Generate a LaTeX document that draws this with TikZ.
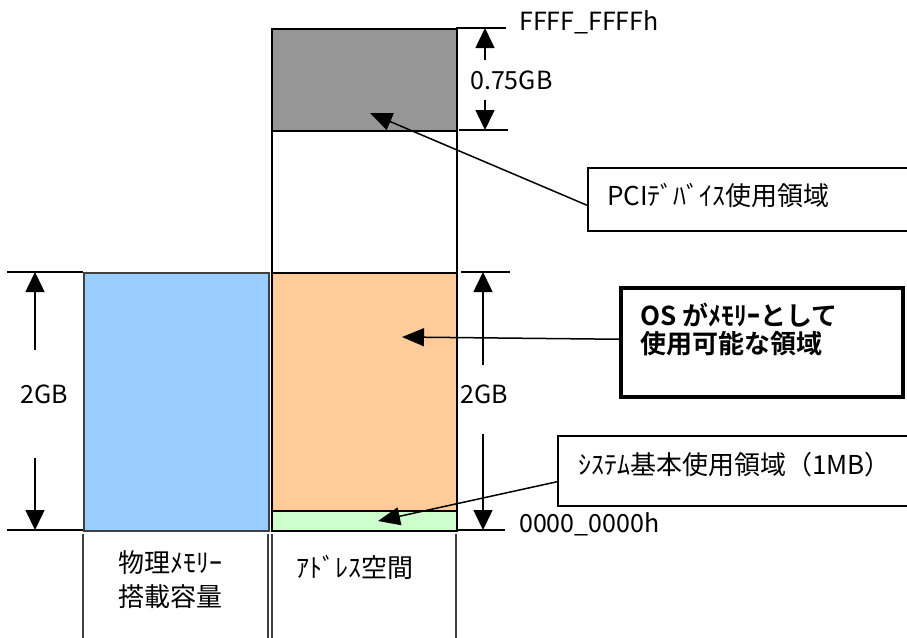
\documentclass[tikz,border=0pt]{standalone}
\usepackage{fontspec}
\setmainfont{Noto Sans CJK JP}[BoldFont={Noto Sans CJK JP Bold}]
\usetikzlibrary{arrows.meta,calc}
\definecolor{pcigray}{HTML}{969696}
\definecolor{osorange}{HTML}{FFCC99}
\definecolor{sysgreen}{HTML}{CCFFCC}
\definecolor{memblue}{HTML}{99CCFF}
\definecolor{edgegray}{HTML}{404040}
\begin{document}
\begin{tikzpicture}[x=1pt,y=-1pt,
  colbox/.style={draw=black,line width=2pt,inner sep=0pt,anchor=north west},
  dimline/.style={line width=1.5pt},
  dimarrow/.style={line width=1.5pt,-{Triangle[width=19pt,length=20pt]}},
  callarrow/.style={line width=1.5pt,-{Triangle[width=18pt,length=22pt]}},
  callbox/.style={draw=black,line width=1.5pt,inner sep=0pt,anchor=north west},
  latin/.style={font=\fontsize{25pt}{30pt}\selectfont,inner sep=0pt},
  jptext/.style={font=\fontsize{26pt}{34pt}\selectfont,inner sep=0pt},
  osfont/.style={font=\bfseries\fontsize{26pt}{28pt}\selectfont,inner sep=0pt},
]
\useasboundingbox (0,0) rectangle (907,637);
\clip (0,0) rectangle (907,637);

% address space column
\node[colbox,fill=pcigray,minimum width=185pt,minimum height=102pt] (pciarea) at (271,28) {};
\node[colbox,fill=white,minimum width=185pt,minimum height=142pt] (freearea) at (271,130) {};
\node[colbox,fill=osorange,minimum width=185pt,minimum height=238pt] (osarea) at (271,272) {};
\node[colbox,fill=sysgreen,minimum width=185pt,minimum height=20pt] (sysarea) at (271,510) {};

% physical memory column
\node[draw=edgegray,line width=1.5pt,fill=memblue,inner sep=0pt,anchor=north west,
      minimum width=185pt,minimum height=258pt] (physmem) at (83,272) {};

% table lines below
\draw[line width=1.5pt,edgegray] (83,534) -- (83,640);
\draw[line width=1.5pt,edgegray] (268,534) -- (268,640);
\draw[line width=1.5pt,edgegray] (272,534) -- (272,640);
\draw[line width=1.5pt,edgegray] (456,534) -- (456,640);

% dimension lines
\draw[dimline] (7,272) -- (83,272);
\draw[dimline] (7,530) -- (83,530);
\draw[dimline] (461,272) -- (510,272);
\draw[dimline] (456,530) -- (505,530);
\draw[dimline] (456,28) -- (506,28);
\draw[dimline] (459,130) -- (508,130);

% dimension arrows
\coordinate (l2top) at (35,272);
\coordinate (l2bot) at (35,530);
\coordinate (l2a) at (35,350);
\coordinate (l2b) at (35,458);
\draw[dimarrow] (l2a) -- (l2top);
\draw[dimarrow] (l2b) -- (l2bot);
\node[latin,anchor=west] (lefttwo) at (20,394) {2GB};

\coordinate (r2top) at (483,272);
\coordinate (r2bot) at (483,530);
\coordinate (r2a) at (483,365);
\coordinate (r2b) at (483,434);
\draw[dimarrow] (r2a) -- (r2top);
\draw[dimarrow] (r2b) -- (r2bot);
\node[latin,anchor=west] (righttwo) at (460,394) {2GB};

\coordinate (ptop) at (485,28);
\coordinate (pbot) at (485,130);
\coordinate (pa) at (485,60);
\coordinate (pb) at (485,100);
\draw[dimarrow] (pa) -- (ptop);
\draw[dimarrow] (pb) -- (pbot);
\node[latin,anchor=west] (pcisize) at (470,80) {0.75GB};

\node[latin,anchor=west] (topaddr) at (519,22) {FFFF\_FFFFh};
\node[latin,anchor=west] (botaddr) at (519,524) {0000\_0000h};

% callouts
\node[callbox,minimum width=340pt,minimum height=63pt] (pcibox) at (587,167) {};
\node[jptext,anchor=west] (pcitext) at (607,196) {PCIﾃﾞﾊﾞｲｽ使用領域};
\coordinate (pcitip) at (370,113);
\draw[callarrow] ($(pcibox.west)+(0,6)$) -- (pcitip);

\node[draw=black,line width=3.5pt,inner sep=0pt,anchor=north west,
      minimum width=282pt,minimum height=109pt] (osbox) at (619,286) {};
\node[osfont,anchor=west,align=left] (ostext) at (640,329) {OS がﾒﾓﾘｰとして\\使用可能な領域};
\coordinate (ostip) at (402,337);
\draw[callarrow] ($(osbox.west)+(0,-3)$) -- (ostip);

\node[callbox,minimum width=370pt,minimum height=70pt] (sysbox) at (557,435) {};
\node[jptext,anchor=west] (systext) at (578,465) {ｼｽﾃﾑ基本使用領域（1MB）};
\coordinate (systip) at (378,521);
\draw[callarrow] ($(sysbox.west)+(0,11)$) -- (systip);

% column labels
\node[jptext,align=center] (physlabel) at (170,580) {物理ﾒﾓﾘｰ\\搭載容量};
\node[jptext] (addrlabel) at (355,567) {ｱﾄﾞﾚｽ空間};
\end{tikzpicture}
\end{document}
